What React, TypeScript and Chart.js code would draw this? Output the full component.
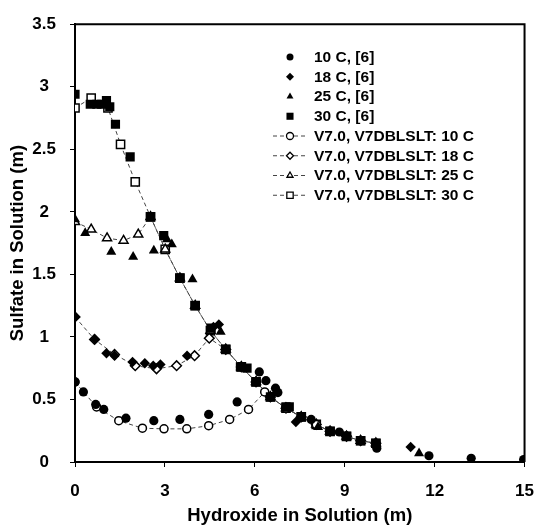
import React, { useEffect, useRef } from 'react';
import { Chart, registerables } from 'chart.js';

Chart.register(...registerables);

// ---- Experimental data, ref [6] ----
const exp10X = [0, 0.28, 0.69, 0.96, 1.70, 2.63, 3.50, 4.46, 5.41, 6.15, 6.37, 6.69, 6.77, 7.88, 8.82, 10.07, 11.81, 13.22, 14.97];
const exp10Y = [0.64, 0.56, 0.46, 0.42, 0.35, 0.33, 0.34, 0.38, 0.48, 0.72, 0.65, 0.59, 0.555, 0.34, 0.24, 0.11, 0.05, 0.03, 0.02];

const exp18X = [0, 0.67, 1.05, 1.32, 1.92, 2.33, 2.61, 2.85, 3.74, 4.62, 4.80, 7.37, 11.2];
const exp18Y = [1.16, 0.98, 0.87, 0.85, 0.80, 0.79, 0.77, 0.78, 0.85, 1.08, 1.10, 0.32, 0.12];

const exp25X = [0, 0.34, 1.21, 1.94, 2.63, 3.07, 3.23, 3.92, 4.86, 8.11, 11.48];
const exp25Y = [1.94, 1.83, 1.68, 1.64, 1.69, 1.78, 1.74, 1.46, 1.04, 0.28, 0.07];

const exp30X = [0, 0.51, 0.73, 0.89, 1.05, 1.16, 1.35, 1.84, 2.52, 2.96, 3.50, 4.01, 4.54, 5.03, 5.52, 5.74, 6.04, 6.52, 7.04, 7.15, 7.55, 8.51, 9.06, 9.53, 10.04];
const exp30Y = [2.94, 2.86, 2.86, 2.86, 2.89, 2.84, 2.70, 2.44, 1.96, 1.81, 1.47, 1.25, 1.07, 0.90, 0.76, 0.75, 0.64, 0.52, 0.44, 0.44, 0.36, 0.245, 0.205, 0.17, 0.15];

// ---- Model (V7.0, V7DBLSLT) ----
const mod10X = [0, 0.72, 1.46, 2.25, 2.97, 3.73, 4.46, 5.16, 5.79, 6.33, 6.52, 7.04, 7.55, 8.05, 8.51, 9.06, 9.53, 10.04];
const mod10Y = [0.64, 0.44, 0.33, 0.27, 0.265, 0.265, 0.29, 0.34, 0.42, 0.56, 0.52, 0.43, 0.36, 0.30, 0.245, 0.205, 0.17, 0.15];

const mod18X = [0, 0.65, 1.32, 2.01, 2.72, 3.39, 3.99, 4.48, 5.03, 5.55, 6.04, 6.52, 7.04, 7.55, 8.05, 8.51, 9.06, 9.53, 10.04];
const mod18Y = [1.16, 0.98, 0.86, 0.77, 0.745, 0.77, 0.85, 0.99, 0.90, 0.76, 0.64, 0.52, 0.43, 0.36, 0.30, 0.245, 0.205, 0.17, 0.15];

const mod25X = [0, 0.54, 1.07, 1.62, 2.11, 2.52, 3.01, 3.50, 4.01, 4.52, 5.03, 5.55, 6.04, 6.52, 7.04, 7.55, 8.05, 8.51, 9.06, 9.53, 10.04];
const mod25Y = [1.92, 1.86, 1.79, 1.77, 1.82, 1.96, 1.70, 1.47, 1.25, 1.05, 0.90, 0.76, 0.64, 0.52, 0.43, 0.36, 0.30, 0.245, 0.205, 0.17, 0.15];

const mod30X = [0, 0.54, 1.10, 1.52, 2.01, 2.52, 3.01, 3.50, 4.01, 4.52, 5.03, 5.55, 6.04, 6.52, 7.04, 7.55, 8.05, 8.51, 9.06, 9.53, 10.04];
const mod30Y = [2.83, 2.91, 2.83, 2.54, 2.24, 1.96, 1.70, 1.47, 1.25, 1.05, 0.90, 0.76, 0.64, 0.52, 0.43, 0.36, 0.30, 0.245, 0.205, 0.17, 0.15];

const xTicks = [0, 3, 6, 9, 12, 15];
const yTicks = [0, 0.5, 1, 1.5, 2, 2.5, 3, 3.5];

const xTitle = 'Hydroxide in Solution (m)';
const yTitle = 'Sulfate in Solution (m)';

const FONT = '"Liberation Sans", Arial, sans-serif';

const pts = (xs: number[], ys: number[]) => xs.map((x, i) => ({ x, y: ys[i] }));

function shape(ctx: CanvasRenderingContext2D, style: string, x: number, y: number, r: number) {
  ctx.beginPath();
  if (style === 'circle') {
    ctx.arc(x, y, r, 0, Math.PI * 2);
  } else if (style === 'rect') {
    const s = r * Math.SQRT1_2;
    ctx.rect(x - s, y - s, 2 * s, 2 * s);
  } else if (style === 'rectRot') {
    ctx.moveTo(x - r, y);
    ctx.lineTo(x, y - r);
    ctx.lineTo(x + r, y);
    ctx.lineTo(x, y + r);
  } else if (style === 'triangle') {
    for (let k = 0; k < 3; k++) {
      const a = (k * 2 * Math.PI) / 3;
      const px = x + Math.sin(a) * r;
      const py = y - Math.cos(a) * r;
      if (k === 0) ctx.moveTo(px, py); else ctx.lineTo(px, py);
    }
  }
  ctx.closePath();
}

const framePlugin = {
  id: 'frameAndLegend',
  afterDraw(chart: any) {
    const ctx: CanvasRenderingContext2D = chart.ctx;
    const a = chart.chartArea;
    ctx.save();
    ctx.strokeStyle = '#000';
    ctx.lineWidth = 2;
    ctx.beginPath();
    ctx.moveTo(a.left, a.top);
    ctx.lineTo(a.right, a.top);
    ctx.lineTo(a.right, a.bottom);
    ctx.stroke();

    // legend
    const x0 = 273, x1 = 305, mx = 290, tx = 314;
    let y = 57;
    const step = 19.75;
    ctx.font = `bold 15.5px ${FONT}`;
    ctx.textBaseline = 'middle';
    ctx.textAlign = 'left';
    chart.data.datasets.forEach((ds: any) => {
      if (ds.showLine) {
        ctx.save();
        ctx.strokeStyle = '#444';
        ctx.lineWidth = 1;
        ctx.setLineDash([4, 3]);
        ctx.beginPath();
        ctx.moveTo(x0, y);
        ctx.lineTo(x1, y);
        ctx.stroke();
        ctx.restore();
        ctx.save();
        ctx.fillStyle = '#fff';
        ctx.strokeStyle = '#000';
        ctx.lineWidth = 1.3;
        shape(ctx, ds.pointStyle, mx, y, ds.pointStyle === 'rect' ? 4.5 : 3.5);
        ctx.fill();
        ctx.stroke();
        ctx.restore();
      } else {
        ctx.save();
        ctx.fillStyle = '#000';
        const r = ds.pointStyle === 'rect' ? 5 : ds.pointStyle === 'circle' ? 3.5 : 4;
        shape(ctx, ds.pointStyle, mx, y, r);
        ctx.fill();
        ctx.restore();
      }
      ctx.fillStyle = '#000';
      ctx.fillText(ds.label, tx, y + 0.5);
      y += step;
    });
    ctx.restore();
  },
};

export default function App() {
  const ref = useRef<HTMLCanvasElement>(null);
  useEffect(() => {
    if (!ref.current) return;
    const expDs = (label: string, xs: number[], ys: number[], style: string, r: number) => ({
      label,
      data: pts(xs, ys),
      showLine: false,
      pointStyle: style,
      pointRadius: r,
      pointBackgroundColor: '#000',
      pointBorderColor: '#000',
      pointBorderWidth: 0,
    });
    const modDs = (label: string, xs: number[], ys: number[], style: string, r: number) => ({
      label,
      data: pts(xs, ys),
      showLine: true,
      borderColor: '#444',
      borderWidth: 1,
      borderDash: [4, 3],
      pointStyle: style,
      pointRadius: r,
      pointBackgroundColor: '#fff',
      pointBorderColor: '#000',
      pointBorderWidth: 1.5,
      tension: 0,
    });
    const chart = new Chart(ref.current, {
      type: 'scatter',
      data: {
        datasets: [
          expDs('10 C, [6]', exp10X, exp10Y, 'circle', 4.6),
          expDs('18 C, [6]', exp18X, exp18Y, 'rectRot', 5.2),
          expDs('25 C, [6]', exp25X, exp25Y, 'triangle', 5.8),
          expDs('30 C, [6]', exp30X, exp30Y, 'rect', 6.5),
          modDs('V7.0, V7DBLSLT: 10 C', mod10X, mod10Y, 'circle', 4),
          modDs('V7.0, V7DBLSLT: 18 C', mod18X, mod18Y, 'rectRot', 4.8),
          modDs('V7.0, V7DBLSLT: 25 C', mod25X, mod25Y, 'triangle', 5.2),
          modDs('V7.0, V7DBLSLT: 30 C', mod30X, mod30Y, 'rect', 5.8),
        ] as any,
      },
      options: {
        animation: false,
        responsive: false,
        layout: { padding: { left: 0, top: 19, right: 14, bottom: 0 } },
        plugins: { legend: { display: false }, tooltip: { enabled: false } },
        scales: {
          x: {
            type: 'linear',
            min: 0,
            max: 15,
            afterBuildTicks: (s: any) => { s.ticks = xTicks.map((v) => ({ value: v })); },
            afterFit: (s: any) => { s.height = 67; },
            ticks: {
              callback: (v: any) => String(v),
              font: { family: FONT, size: 17, weight: 'bold' },
              color: '#000',
              padding: 14,
              maxRotation: 0,
            },
            grid: { drawOnChartArea: false, drawTicks: true, tickLength: 5, color: '#000', lineWidth: 1 },
            border: { display: true, color: '#000', width: 2 },
            title: {
              display: true,
              text: xTitle,
              color: '#000',
              font: { family: FONT, size: 18.5, weight: 'bold' },
              padding: { top: 0, bottom: 2 },
            },
          },
          y: {
            type: 'linear',
            min: 0,
            max: 3.5,
            afterBuildTicks: (s: any) => { s.ticks = yTicks.map((v) => ({ value: v })); },
            afterFit: (s: any) => { s.width = 75; },
            ticks: {
              callback: (v: any) => String(v),
              font: { family: FONT, size: 17, weight: 'bold' },
              color: '#000',
              padding: 14,
              crossAlign: 'center',
            },
            grid: { drawOnChartArea: false, drawTicks: true, tickLength: 5, color: '#000', lineWidth: 1 },
            border: { display: true, color: '#000', width: 2 },
            title: {
              display: true,
              text: yTitle,
              color: '#000',
              font: { family: FONT, size: 18.5, weight: 'bold' },
              padding: { top: 7, bottom: 0 },
            },
          },
        },
      } as any,
      plugins: [framePlugin],
    });
    return () => chart.destroy();
  }, []);
  return (
    <div style={{ position: 'absolute', left: 0, top: 0, width: 548, height: 529, background: '#fff' }}>
      <canvas ref={ref} width={548} height={529} style={{ display: 'block' }} />
    </div>
  );
}
